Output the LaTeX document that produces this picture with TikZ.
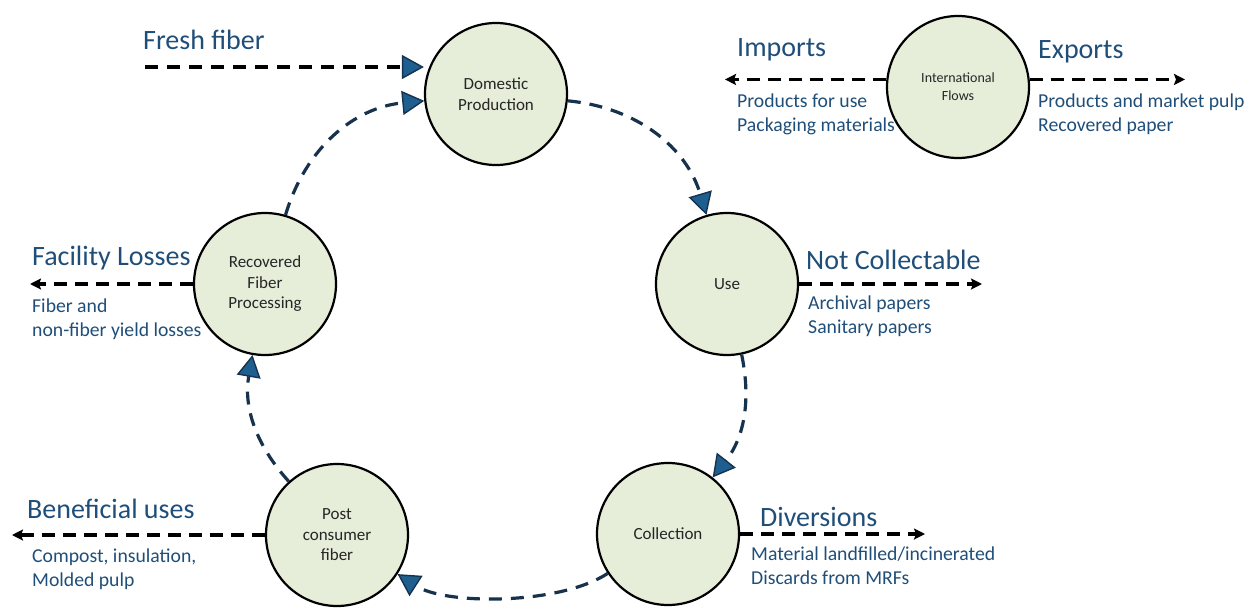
\documentclass[tikz,border=0pt]{standalone}
\usepackage{fontspec}
\setmainfont{Carlito}
\usetikzlibrary{arrows.meta}
\definecolor{circfill}{HTML}{E6EDD9}
\definecolor{labblue}{HTML}{1F4E79}
\definecolor{navy}{HTML}{17324D}
\definecolor{headblue}{HTML}{1F5F8F}
\definecolor{circtext}{HTML}{262626}
\tikzset{
  stage/.style={circle, draw=black, line width=2.2pt, fill=circfill, minimum size=142pt, inner sep=0pt, align=center, font=\fontsize{17}{20.5}\selectfont, text=circtext},
  cyc/.style={draw=navy, line width=3.2pt, dash pattern=on 13pt off 9pt, -{Triangle[length=22pt,width=24pt,fill=headblue,line width=1.4pt]}},
  feed/.style={draw=black, line width=3.2pt, dash pattern=on 13pt off 9pt, -{Triangle[length=22pt,width=24pt,fill=headblue,line width=1.4pt,color=navy]}},
  outflow/.style={draw=black, line width=3.2pt, dash pattern=on 13pt off 8pt, -{Stealth[length=11pt,width=11pt,inset=2pt]}},
  biglab/.style={anchor=west, text=labblue, font=\fontsize{28}{32}\selectfont, inner sep=0pt},
  smalllab/.style={anchor=north west, text=labblue, font=\fontsize{19.7}{24}\selectfont, inner sep=0pt, align=left},
}
\begin{document}
\begin{tikzpicture}[x=1pt,y=1pt]
\useasboundingbox (0,0) rectangle (1255,-608);
% stages
\node[stage] (dp) at (496,-94) {Domestic\\Production};
\node[stage] (use) at (727,-284) {Use};
\node[stage] (col) at (668,-534) {Collection};
\node[stage] (pcf) at (337,-535) {Post\\consumer\\fiber};
\node[stage] (rfp) at (265,-284) {Recovered\\Fiber\\Processing};
\node[stage, font=\fontsize{14}{18}\selectfont] (intl) at (958,-87) {International\\Flows};
% cycle
\draw[cyc] (rfp) to[bend left=34] (dp);
\draw[cyc] (dp) to[bend left=34] (use);
\draw[cyc] (use) to[bend left=25] (col);
\draw[cyc] (col) to[bend left=33, looseness=0.7] (pcf);
\draw[cyc] (pcf) to[bend left=26] (rfp);
% fresh fiber
\coordinate (ffs) at (145,-67);
\draw[feed] (ffs) -- (ffs -| dp.west);
% outflows
\coordinate (impe) at (725,-80);
\coordinate (expe) at (1185,-80);
\coordinate (nce) at (982,-284);
\coordinate (fle) at (30,-286);
\coordinate (dve) at (925,-535);
\coordinate (bue) at (12,-536);
\draw[outflow] (intl.174) -- (impe |- intl.174);
\draw[outflow] (intl.6) -- (expe |- intl.6);
\draw[outflow] (use.east) -- (nce);
\draw[outflow] (rfp.west) -- (fle |- rfp.west);
\draw[outflow] (col.east) -- (dve |- col.east);
\draw[outflow] (pcf.west) -- (bue |- pcf.west);
% labels
\node[biglab] (lff) at (143,-40) {Fresh fiber};
\node[biglab] (limp) at (737,-50) {Imports};
\node[smalllab] (simp) at (737,-94) {Products for use\\Packaging materials};
\node[biglab] (lexp) at (1038,-52) {Exports};
\node[smalllab] (sexp) at (1038,-94) {Products and market pulp\\Recovered paper};
\node[biglab] (lnc) at (806,-260) {Not Collectable};
\node[smalllab] (snc) at (808,-296) {Archival papers\\Sanitary papers};
\node[biglab] (lfl) at (32,-258) {Facility Losses};
\node[smalllab] (sfl) at (32,-299) {Fiber and\\non-fiber yield losses};
\node[biglab] (lbu) at (27,-509) {Beneficial uses};
\node[smalllab] (sbu) at (32,-549) {Compost, insulation,\\Molded pulp};
\node[biglab] (ldv) at (760,-517) {Diversions};
\node[smalllab] (sdv) at (751,-547) {Material landfilled/incinerated\\Discards from MRFs};
\end{tikzpicture}
\end{document}
